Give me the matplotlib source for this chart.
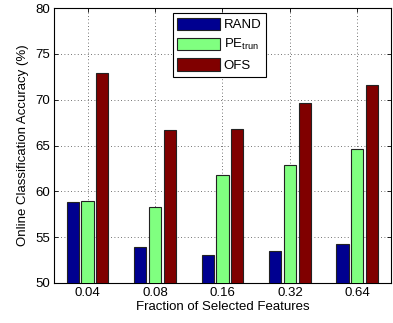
import matplotlib
matplotlib.use("Agg")
import matplotlib.pyplot as plt
import numpy as np

plt.rcParams['font.family'] = ['Liberation Sans', 'DejaVu Sans']
plt.rcParams['mathtext.fontset'] = 'custom'
plt.rcParams['mathtext.rm'] = 'Liberation Sans'
plt.rcParams['mathtext.it'] = 'Liberation Sans'

categories = ['0.04', '0.08', '0.16', '0.32', '0.64']
series_names = ['RAND', r'PE$_{\mathrm{trun}}$', 'OFS']
rand_vals = [58.8, 53.9, 53.1, 53.5, 54.2]
pe_vals = [58.9, 58.3, 61.8, 62.9, 64.6]
ofs_vals = [72.9, 66.7, 66.8, 69.6, 71.6]
colors = ['#000090', '#80FF80', '#800000']

fig = plt.figure(figsize=(3.93, 3.23), dpi=100)
ax = fig.add_axes([0.137, 0.124, 0.858, 0.851])

x = np.arange(1, len(categories) + 1)
offsets = [-0.22, 0.0, 0.22]
width = 0.18
for vals, name, c, off in zip([rand_vals, pe_vals, ofs_vals], series_names, colors, offsets):
    ax.bar(x + off, vals, width, color=c, edgecolor='#222222', linewidth=0.8, label=name, zorder=3)

ax.set_xlim(0.5, 5.5)
ax.set_ylim(50, 80)
ax.set_xticks(x)
ax.set_xticklabels(categories)
ax.set_yticks(np.arange(50, 81, 5))
ax.tick_params(direction='in', top=True, right=True, labelsize=9.5, length=3, width=0.6, pad=3)
ax.grid(True, linestyle=(0, (1, 3)), color='#444444', linewidth=0.6, zorder=0)
for s in ax.spines.values():
    s.set_linewidth(0.8)
ax.set_xlabel('Fraction of Selected Features', fontsize=9.5, labelpad=1)
ax.set_ylabel('Online Classification Accuracy (%)', fontsize=9.5)
ax.yaxis.set_label_coords(-0.074, 0.5)

leg = ax.legend(loc='upper left', bbox_to_anchor=(0.353, 0.982), fontsize=9.5,
                fancybox=False, edgecolor='black', framealpha=1,
                handlelength=3.2, handleheight=1.1, handletextpad=0.3,
                labelspacing=0.45, borderpad=0.35, borderaxespad=0)
leg.get_frame().set_linewidth(0.8)

fig.savefig('out.png', dpi=100)
